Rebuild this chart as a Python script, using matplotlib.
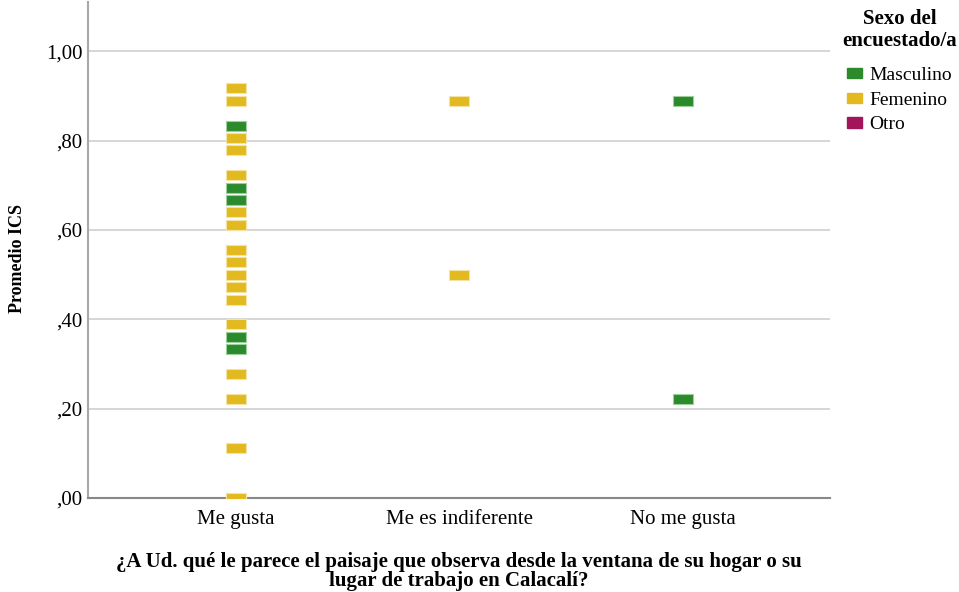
import numpy as np
import matplotlib.pyplot as plt
from matplotlib.patches import Patch

plt.rcParams['font.family'] = ['Liberation Serif', 'DejaVu Serif']

categories = ['Me gusta', 'Me es indiferente', 'No me gusta']

# ICS averages per respondent: (category index, value)
masc_cat = [0, 0, 0, 0, 0, 0, 0, 2, 2]
masc_val = [0.833, 0.694, 0.667, 0.611, 0.556, 0.361, 0.333, 0.889, 0.222]

fem_cat = [0] * 18 + [1, 1]
fem_val = [0.917, 0.889, 0.806, 0.778, 0.722, 0.639, 0.611, 0.556, 0.528,
           0.500, 0.472, 0.444, 0.389, 0.278, 0.222, 0.111, 0.0, 0.0,
           0.889, 0.500]

otro_cat = []
otro_val = []

y_ticks = [0.0, 0.2, 0.4, 0.6, 0.8, 1.0]
y_tick_labels = [',00', ',20', ',40', ',60', ',80', '1,00']

green = '#2b8a2b'
yellow = '#e2b91e'
purple = '#a3155a'

# wide rectangle marker
rect = [(-1, -0.5), (1, -0.5), (1, 0.5), (-1, 0.5), (-1, -0.5)]

fig = plt.figure(figsize=(9.59, 5.92), dpi=100)
ax = fig.add_axes([0.0918, 0.1588, 0.7737, 0.8378])

ax.scatter(masc_cat, masc_val, marker=rect, s=210, color=green,
           edgecolors='#9ccf9c', linewidths=0.8, zorder=3)
ax.scatter(fem_cat, fem_val, marker=rect, s=210, color=yellow,
           edgecolors='#f3e3a6', linewidths=0.8, zorder=4)
if otro_cat:
    ax.scatter(otro_cat, otro_val, marker=rect, s=210, color=purple, zorder=4)

ax.set_xlim(-0.66, 2.66)
ax.set_ylim(0, 1.11)
ax.set_xticks(range(len(categories)))
ax.set_xticklabels(categories, fontsize=15)
ax.set_yticks(y_ticks)
ax.set_yticklabels(y_tick_labels, fontsize=15)
ax.tick_params(length=0, pad=4)
ax.tick_params(axis='x', pad=9)

ax.grid(axis='y', color='#d0d0d0', linewidth=1.2)
ax.set_axisbelow(True)
for side in ['top', 'right']:
    ax.spines[side].set_visible(False)
ax.spines['left'].set_color('#a8a8a8')
ax.spines['left'].set_linewidth(1.5)
ax.spines['bottom'].set_color('#888888')
ax.spines['bottom'].set_linewidth(1.5)

ax.set_ylabel('Promedio ICS', fontsize=13, fontweight='bold')
ax.yaxis.set_label_coords(-0.083, 0.482)
ax.set_xlabel('¿A Ud. qué le parece el paisaje que observa desde la ventana de su hogar o su\n'
              'lugar de trabajo en Calacalí?', fontsize=15, fontweight='bold', labelpad=16,
              linespacing=0.95)

# legend title drawn separately so it can sit centered above the entries
fig.text(0.9385, 1 - 30 / 592, 'Sexo del\nencuestado/a', ha='center', va='center',
         fontsize=15, fontweight='bold', linespacing=1.15)
handles = [Patch(facecolor=green, edgecolor=green, label='Masculino'),
           Patch(facecolor=yellow, edgecolor=yellow, label='Femenino'),
           Patch(facecolor=purple, edgecolor=purple, label='Otro')]
fig.legend(handles=handles, loc='upper left', bbox_to_anchor=(0.883, 0.887),
           frameon=False, fontsize=14, borderpad=0, borderaxespad=0,
           handlelength=0.77, handleheight=0.45, handletextpad=0.41,
           labelspacing=0.4)

fig.savefig('out.png', dpi=100)
